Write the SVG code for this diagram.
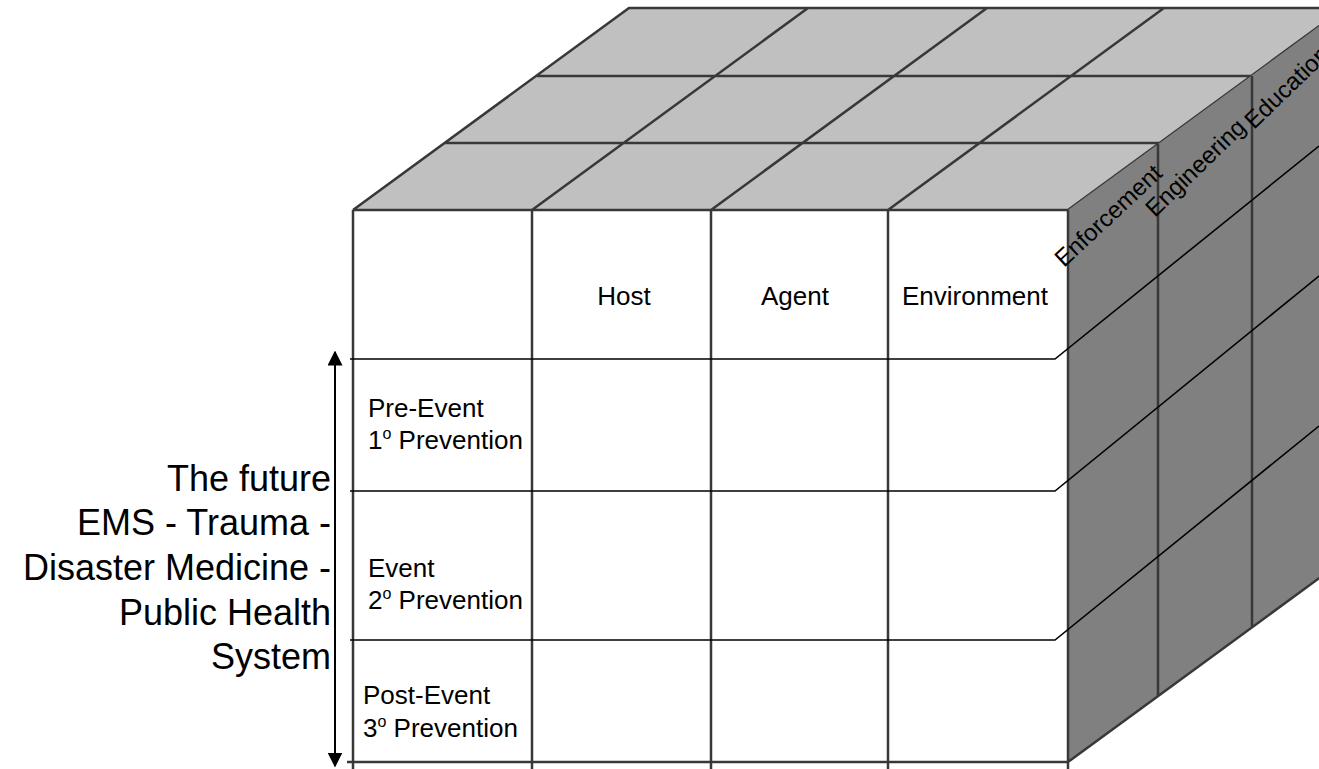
<svg xmlns="http://www.w3.org/2000/svg" width="1319" height="769" viewBox="0 0 1319 769">
<style>
.edge{stroke:#383838;stroke-width:2.5;fill:none;stroke-linejoin:round}
.row{stroke:#000;stroke-width:1.6;fill:none}
.t{font-family:"Liberation Sans",Arial,sans-serif;fill:#000}
.s24{font-size:24px}
.s26{font-size:26px}
.s36{font-size:36px}
</style>
<defs>
<marker id="ah" viewBox="0 0 10 10" refX="9" refY="5" markerWidth="15" markerHeight="15" markerUnits="userSpaceOnUse" orient="auto-start-reverse">
<path d="M0,0 L10,5 L0,10 z" fill="#000"/>
</marker>
</defs>
<rect width="1319" height="769" fill="#fff"/>

<g id="top-face">
<polygon points="353,210 1068,210 1344,8 629,8" fill="#c0c0c0"/>
<path class="edge" d="M353,210 L629,8 L1344,8 M445,143 L1160,143 M537,76 L1252,76 M532,210 L808,8 M711,210 L987,8 M888,210 L1164,8 M353,210 L1068,210 L1344,8"/>
</g>

<g id="side-face">
<polygon points="1068,210 1344,8 1344,560 1068,762" fill="#808080"/>
<path class="edge" d="M1068,210 L1068,769 M1158,144 L1158,696 M1252,76 L1252,627 M1068,762 L1344,560"/>
</g>

<g id="front-face">
<path class="edge" d="M353,210 L353,769 M532,210 L532,769 M711,210 L711,769 M888,210 L888,769 M347,762 L1068,762"/>
</g>

<g id="connectors">
<path class="row" d="M350,359 L1055,359 L1319,146"/>
<path class="row" d="M350,491 L1055,491 L1319,276"/>
<path class="row" d="M350,640 L1055,640 L1319,426"/>
<line x1="335" y1="352" x2="335" y2="766" stroke="#000" stroke-width="2" marker-start="url(#ah)" marker-end="url(#ah)"/>
</g>

<g id="header-labels" class="t s26" text-anchor="middle">
<text x="624" y="305">Host</text>
<text x="795" y="305">Agent</text>
<text x="975" y="305">Environment</text>
</g>

<g id="side-labels" class="t s24">
<text transform="translate(1064,268) rotate(-43)">Enforcement</text>
<text transform="translate(1155,218) rotate(-44)">Engineering</text>
<text transform="translate(1254,130) rotate(-44)">Education</text>
</g>

<g id="row-labels" class="t s26">
<text x="368" y="417">Pre-Event</text>
<text x="368" y="449">1<tspan font-size="16" dy="-10">o</tspan><tspan dy="10"> Prevention</tspan></text>
<text x="368" y="577">Event</text>
<text x="368" y="609">2<tspan font-size="16" dy="-10">o</tspan><tspan dy="10"> Prevention</tspan></text>
<text x="363" y="704">Post-Event</text>
<text x="363" y="737">3<tspan font-size="16" dy="-10">o</tspan><tspan dy="10"> Prevention</tspan></text>
</g>

<g id="axis-label" class="t s36" text-anchor="end">
<text x="331" y="491">The future</text>
<text x="331" y="535">EMS - Trauma -</text>
<text x="331" y="580">Disaster Medicine -</text>
<text x="331" y="625">Public Health</text>
<text x="331" y="669">System</text>
</g>
</svg>
